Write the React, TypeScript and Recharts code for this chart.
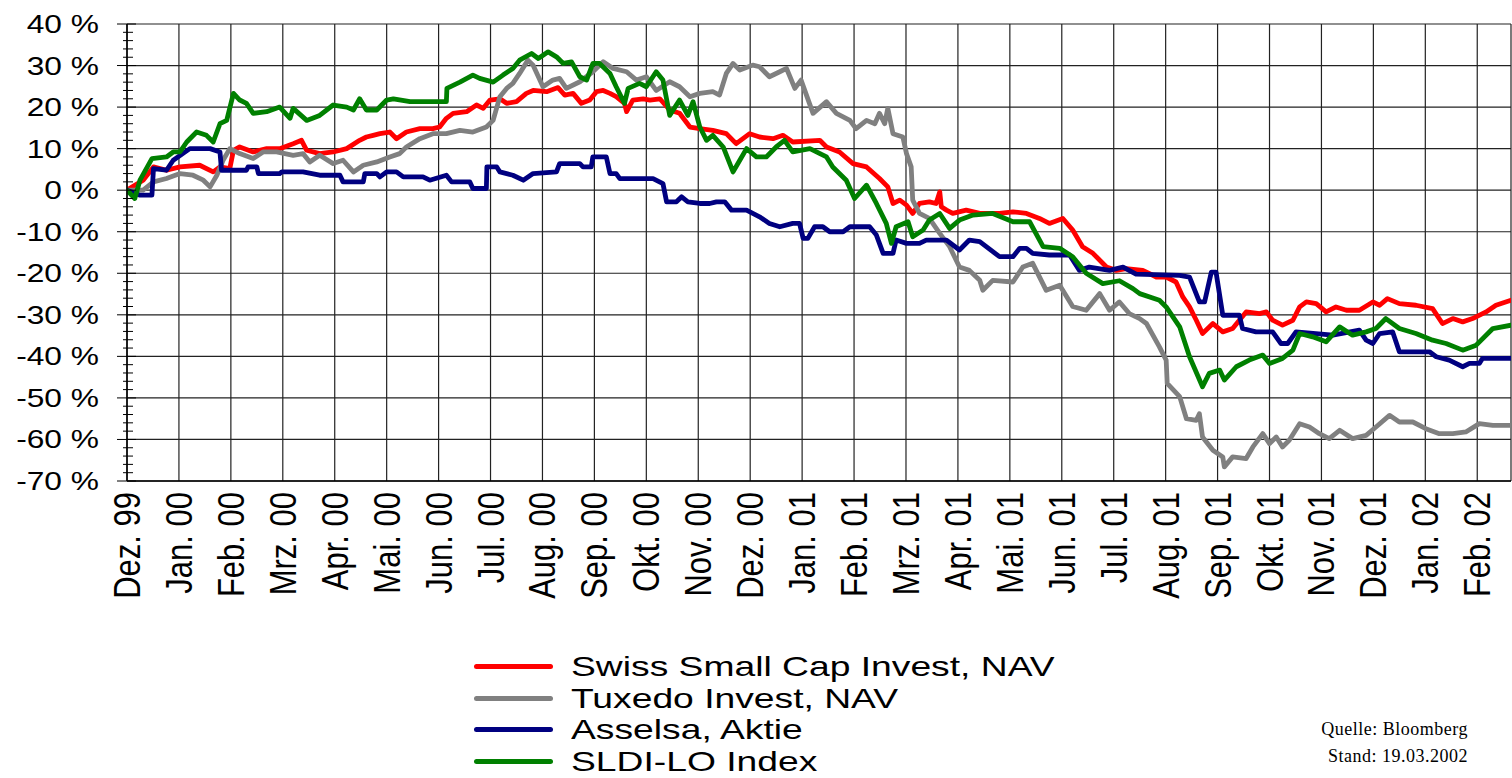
import React from "react";
import { LineChart, Line, XAxis, YAxis, CartesianGrid, Legend } from "recharts";

// x = months since Dez. 99, y = performance in %
const MONTHS = [
  "Dez. 99", "Jan. 00", "Feb. 00", "Mrz. 00", "Apr. 00", "Mai. 00", "Jun. 00",
  "Jul. 00", "Aug. 00", "Sep. 00", "Okt. 00", "Nov. 00", "Dez. 00", "Jan. 01",
  "Feb. 01", "Mrz. 01", "Apr. 01", "Mai. 01", "Jun. 01", "Jul. 01", "Aug. 01",
  "Sep. 01", "Okt. 01", "Nov. 01", "Dez. 01", "Jan. 02", "Feb. 02",
];

const Y_MAJOR = [-70, -60, -50, -40, -30, -20, -10, 0, 10, 20, 30, 40];

const SWISS: [number, number][] = [
  [0, 0], [0.31, 2.4], [0.51, 5.6], [0.76, 4.8], [1.02, 5.6], [1.4, 6], [1.66, 4.4], [1.79, 5.6],
  [1.98, 5.2], [2.05, 9.6], [2.17, 10.4], [2.43, 9.2], [2.69, 10], [2.94, 10], [3.2, 11.2], [3.36, 12],
  [3.46, 9.6], [3.71, 8.8], [3.97, 9.2], [4.23, 10], [4.48, 12], [4.61, 12.8], [4.74, 13.2], [4.87, 13.6],
  [5.06, 14], [5.19, 12.4], [5.38, 14], [5.64, 14.8], [5.89, 14.8], [6.02, 15.2], [6.15, 17.3], [6.28, 18.5],
  [6.54, 18.9], [6.73, 20.5], [6.86, 19.7], [6.99, 21.7], [7.18, 22], [7.31, 20.9], [7.5, 21.3], [7.69, 23.3],
  [7.82, 24], [8.08, 23.7], [8.3, 24.7], [8.43, 22.9], [8.59, 23.3], [8.75, 20.9], [8.91, 21.7], [9.04, 23.7],
  [9.17, 24], [9.3, 23.3], [9.42, 22.5], [9.58, 20.9], [9.62, 18.9], [9.74, 21.7], [9.94, 22], [10.07, 21.7],
  [10.26, 22], [10.45, 19.3], [10.64, 18.5], [10.84, 15.2], [11.03, 14.8], [11.28, 14.4], [11.54, 13.6],
  [11.73, 11.2], [11.99, 13.6], [12.18, 12.8], [12.44, 12.4], [12.63, 13.2], [12.82, 11.6], [13.34, 12],
  [13.47, 10.4], [13.72, 9.2], [13.98, 6.4], [14.24, 5.6], [14.49, 2.8], [14.65, 0.8], [14.75, -3.2],
  [14.88, -2.4], [15.01, -3.6], [15.13, -5.6], [15.26, -3.2], [15.45, -2.8], [15.58, -3.2], [15.65, -0.4],
  [15.68, -4], [15.78, -4.8], [15.9, -5.6], [16.16, -4.8], [16.42, -5.6], [16.8, -5.6], [17.06, -5.2],
  [17.32, -5.6], [17.57, -6.8], [17.76, -8], [18.02, -6.8], [18.21, -9.6], [18.4, -13.6], [18.6, -15.2],
  [18.86, -18.5], [19.05, -19.3], [19.24, -18.9], [19.56, -19.3], [19.82, -20.9], [20.01, -20.9],
  [20.2, -22.1], [20.33, -25.7], [20.46, -28.1], [20.59, -31.3], [20.71, -34.5], [20.91, -32.1],
  [21.1, -34.1], [21.29, -33.3], [21.42, -31.3], [21.55, -29.3], [21.81, -29.7], [21.94, -29.3],
  [22.06, -31.3], [22.25, -32.5], [22.45, -31.3], [22.58, -28.1], [22.71, -26.9], [22.9, -27.3],
  [23.09, -29.3], [23.28, -28.1], [23.48, -28.9], [23.73, -28.9], [23.99, -26.9], [24.12, -27.7],
  [24.27, -26.1], [24.5, -27.3], [24.82, -27.7], [25.14, -28.5], [25.33, -32.1], [25.53, -30.9],
  [25.72, -31.7], [25.91, -30.9], [26.17, -29.3], [26.36, -27.7], [26.65, -26.5],
];

const TUXEDO: [number, number][] = [
  [0, 0], [0.31, 0], [0.51, 2], [0.76, 2.8], [1.02, 4], [1.27, 3.6], [1.47, 2.4], [1.6, 0.8], [1.73, 3.6],
  [1.85, 7.2], [1.98, 10], [2.17, 8.8], [2.43, 7.6], [2.62, 9.2], [2.88, 9.2], [3.2, 8.4], [3.39, 8.8],
  [3.52, 6.8], [3.71, 8.4], [3.97, 6.4], [4.16, 7.2], [4.36, 4.4], [4.55, 6], [4.81, 6.8], [5.06, 8],
  [5.25, 8.8], [5.38, 10.4], [5.64, 12.4], [5.89, 13.6], [6.15, 13.6], [6.41, 14.4], [6.66, 14], [6.92, 15.2],
  [7.05, 16.8], [7.18, 22.5], [7.31, 24.5], [7.43, 25.7], [7.56, 28.1], [7.72, 31.3], [7.82, 30.1],
  [8.01, 24.9], [8.2, 26.5], [8.33, 26.9], [8.46, 24.5], [8.72, 26.1], [8.97, 28.5], [9.17, 30.9],
  [9.36, 29.3], [9.62, 28.5], [9.81, 26.5], [10.0, 27.3], [10.19, 24], [10.45, 26.1], [10.64, 24.9],
  [10.84, 22.5], [11.03, 23.3], [11.28, 23.7], [11.41, 22.9], [11.54, 28.1], [11.67, 30.5], [11.8, 28.9],
  [12.05, 30.1], [12.18, 29.7], [12.37, 27.3], [12.57, 28.5], [12.7, 29.3], [12.86, 24.5], [12.98, 26.5],
  [13.21, 18.5], [13.47, 21.3], [13.66, 18.5], [13.92, 16.8], [14.04, 14.8], [14.24, 16.8], [14.4, 16],
  [14.49, 18.5], [14.59, 16], [14.65, 19.7], [14.75, 13.6], [14.94, 12.8], [15.01, 8.8], [15.1, 5.6],
  [15.13, -2.4], [15.26, -5.6], [15.45, -6.8], [15.65, -10.4], [15.84, -13.6], [16.03, -18.5],
  [16.22, -19.3], [16.42, -21.7], [16.48, -24.1], [16.67, -21.7], [17.06, -22.1], [17.25, -18.5],
  [17.44, -17.6], [17.7, -24.1], [17.96, -22.9], [18.21, -28], [18.47, -28.9], [18.73, -24.9],
  [18.92, -28.9], [19.11, -26.9], [19.3, -29.7], [19.5, -30.9], [19.63, -32.1], [19.88, -37.7],
  [20.01, -40.9], [20.03, -46.5], [20.27, -49.7], [20.4, -55], [20.59, -55.4], [20.65, -53.8],
  [20.71, -59.4], [20.91, -62.6], [21.1, -64.2], [21.13, -66.6], [21.29, -64.2], [21.55, -64.6],
  [21.68, -61.8], [21.87, -58.6], [22.0, -61], [22.13, -59.4], [22.25, -61.8], [22.38, -60.2],
  [22.58, -56.2], [22.77, -57], [22.96, -58.6], [23.15, -59.8], [23.35, -57.8], [23.6, -59.8],
  [23.86, -59], [24.05, -57], [24.31, -54.2], [24.5, -55.8], [24.76, -55.8], [25.01, -57.4],
  [25.27, -58.6], [25.53, -58.6], [25.78, -58.2], [26.04, -56.2], [26.3, -56.6], [26.65, -56.6],
];

const ASSELSA: [number, number][] = [
  [0, 0], [0.25, -1.2], [0.48, -1.2], [0.51, 5.2], [0.76, 4.8], [0.89, 7.2], [1.21, 10], [1.6, 10],
  [1.79, 9.2], [1.82, 4.8], [2.3, 4.8], [2.33, 5.6], [2.5, 5.6], [2.53, 4], [2.94, 4], [2.98, 4.4],
  [3.39, 4.4], [3.71, 3.6], [4.1, 3.6], [4.16, 2], [4.55, 2], [4.58, 4], [4.81, 4], [4.87, 3.2],
  [5.0, 4.4], [5.19, 4.4], [5.32, 3.2], [5.7, 3.2], [5.83, 2.4], [6.15, 3.6], [6.25, 2], [6.6, 2],
  [6.66, 0.4], [6.92, 0.4], [6.93, 5.6], [7.12, 5.6], [7.18, 4.4], [7.43, 3.6], [7.63, 2.4], [7.82, 4],
  [8.27, 4.4], [8.33, 6.4], [8.72, 6.4], [8.78, 5.6], [8.94, 5.6], [8.97, 8], [9.23, 8], [9.3, 4],
  [9.42, 4], [9.49, 2.8], [10.13, 2.8], [10.32, 1.6], [10.39, -2.8], [10.58, -2.8], [10.68, -1.6],
  [10.8, -2.8], [11.03, -3.2], [11.22, -3.2], [11.35, -2.8], [11.51, -2.8], [11.64, -4.8], [11.93, -4.8],
  [12.18, -6.4], [12.37, -8], [12.57, -8.8], [12.82, -8], [12.95, -8], [13.02, -11.6], [13.11, -11.6],
  [13.24, -8.8], [13.4, -8.8], [13.53, -10], [13.79, -10], [13.92, -8.8], [14.3, -8.8], [14.43, -10.8],
  [14.56, -15.2], [14.75, -15.2], [14.81, -12], [15.01, -12.8], [15.26, -12.8], [15.39, -12], [15.78, -12],
  [16.03, -14.4], [16.22, -12], [16.42, -12.4], [16.8, -16], [17.06, -16], [17.19, -14], [17.32, -14],
  [17.44, -15.2], [17.76, -15.6], [18.15, -15.6], [18.34, -19.3], [18.53, -18.5], [18.92, -19.3],
  [19.18, -18.5], [19.43, -20.2], [20.27, -20.5], [20.46, -20.9], [20.65, -26.9], [20.75, -26.9],
  [20.88, -19.7], [20.97, -19.7], [21.1, -30.1], [21.42, -30.1], [21.48, -33.3], [21.74, -34.1],
  [22.06, -34.1], [22.22, -36.9], [22.35, -36.9], [22.51, -34.1], [23.22, -34.9], [23.73, -33.7],
  [23.86, -36.1], [23.99, -36.9], [24.12, -34.5], [24.37, -34.1], [24.5, -38.9], [25.08, -38.9],
  [25.21, -40.1], [25.46, -40.9], [25.72, -42.5], [25.85, -41.7], [26.04, -41.7], [26.1, -40.5],
  [26.65, -40.5],
];

const SLDI: [number, number][] = [
  [0, 0], [0.15, -2], [0.25, 2.4], [0.48, 7.6], [0.76, 8], [0.89, 9.2], [1.02, 9.2], [1.15, 11.6],
  [1.34, 14], [1.53, 13.2], [1.66, 11.6], [1.79, 16], [1.92, 16.8], [2.05, 23.3], [2.17, 21.7],
  [2.3, 20.9], [2.43, 18.5], [2.69, 18.9], [2.94, 20], [3.14, 17.3], [3.2, 19.7], [3.46, 16.8], [3.71, 18],
  [3.97, 20.5], [4.23, 20], [4.36, 19.3], [4.48, 22], [4.61, 19.3], [4.81, 19.3], [5.0, 21.7], [5.13, 22],
  [5.45, 21.3], [6.15, 21.3], [6.16, 24.5], [6.41, 26], [6.66, 27.7], [6.79, 26.9], [7.05, 26],
  [7.24, 27.7], [7.43, 29.3], [7.56, 31.3], [7.79, 32.9], [7.92, 31.7], [8.11, 33.3], [8.27, 32.1],
  [8.4, 30.5], [8.56, 30.9], [8.72, 27.3], [8.85, 26.5], [8.97, 30.5], [9.1, 30.5], [9.3, 28.1],
  [9.42, 24.9], [9.58, 20.9], [9.65, 24.5], [9.87, 25.7], [10.0, 24.9], [10.19, 28.5], [10.32, 26.5],
  [10.45, 18], [10.64, 21.7], [10.8, 18], [10.9, 21.3], [11.03, 15.2], [11.16, 12], [11.28, 13.2],
  [11.48, 10.4], [11.67, 4.4], [11.8, 7.2], [11.93, 10], [12.12, 8], [12.31, 8], [12.5, 10.4], [12.66, 12],
  [12.82, 9.2], [13.15, 10], [13.47, 8], [13.59, 5.6], [13.85, 2.4], [14.01, -2], [14.24, 1.2],
  [14.43, -3.2], [14.62, -8], [14.72, -12.8], [14.81, -8.8], [15.04, -7.6], [15.13, -11.2], [15.33, -9.6],
  [15.45, -7.2], [15.65, -5.6], [15.84, -9.2], [16.03, -7.2], [16.29, -6], [16.67, -5.6], [17.06, -7.6],
  [17.38, -7.6], [17.64, -13.6], [17.96, -14], [18.21, -16], [18.47, -20], [18.79, -22.5], [19.11, -21.8],
  [19.37, -23.7], [19.5, -24.9], [19.88, -26.5], [20.01, -28.1], [20.27, -32.9], [20.46, -40.1],
  [20.71, -47.3], [20.84, -44.1], [21.04, -43.3], [21.13, -45.7], [21.36, -42.5], [21.61, -40.9],
  [21.87, -39.7], [22.0, -41.7], [22.25, -40.5], [22.45, -38.5], [22.58, -34.5], [22.83, -35.3],
  [23.09, -36.5], [23.35, -32.9], [23.6, -34.9], [23.86, -34.1], [24.05, -33.3], [24.24, -30.9],
  [24.5, -33.3], [24.82, -34.5], [25.14, -36.1], [25.4, -36.9], [25.72, -38.5], [25.98, -37.3],
  [26.3, -33.3], [26.65, -32.5],
];

const SERIES = [
  { name: "Swiss Small Cap Invest, NAV", color: "#ff0000", points: SWISS },
  { name: "Tuxedo Invest, NAV", color: "#808080", points: TUXEDO },
  { name: "Asselsa, Aktie", color: "#000080", points: ASSELSA },
  { name: "SLDI-LO Index", color: "#008000", points: SLDI },
];

const FONT = "'Liberation Sans', Arial, sans-serif";
const Y_TICKS = Array.from({ length: 56 }, (_, i) => -70 + i * 2);
const X_TICKS = MONTHS.map((_, i) => i);

function YTick(props: any) {
  const { x, y, payload } = props;
  const v = payload.value;
  const major = v % 10 === 0;
  const tx = x - 28;
  return (
    <g>
      <line x1={major ? x - 10 : x - 4} x2={major ? x + 9 : x + 6} y1={y} y2={y} stroke="#000" strokeWidth={1} />
      {major && (
        <text
          x={0}
          y={0}
          textAnchor="end"
          dominantBaseline="central"
          fontSize={26}
          fontFamily={FONT}
          fill="#000"
          transform={`translate(${tx} ${y}) scale(1.22 1)`}
        >
          {`${v} %`}
        </text>
      )}
    </g>
  );
}

function XTick(props: any) {
  const { x, y, payload } = props;
  return (
    <g transform={`translate(${x} ${y + 11}) scale(1.2 1) rotate(-90)`}>
      <text x={0} y={0} textAnchor="end" dominantBaseline="central" fontSize={31} fontFamily={FONT} fill="#000">
        {MONTHS[payload.value]}
      </text>
    </g>
  );
}

// legend drawn in the original series order (recharts would sort it by name)
function LegendBox() {
  return (
    <div style={{ fontFamily: FONT }}>
      {SERIES.map((s) => (
        <div key={s.name} style={{ display: "flex", alignItems: "center", height: 31.5 }}>
          <div style={{ width: 79, height: 5, borderRadius: 3, background: s.color, marginRight: 18, flex: "none" }} />
          <span
            style={{
              fontSize: 28,
              lineHeight: "31px",
              whiteSpace: "nowrap",
              transform: "scaleX(1.33)",
              transformOrigin: "left center",
              display: "inline-block",
            }}
          >
            {s.name}
          </span>
        </div>
      ))}
    </div>
  );
}

export default function App() {
  return (
    <div style={{ position: "absolute", left: 0, top: 0, width: 1512, height: 778, overflow: "hidden", background: "#fff" }}>
      <LineChart width={1512} height={778} margin={{ top: 24, right: 1, left: 0, bottom: 0 }}>
        <CartesianGrid stroke="#222" strokeWidth={1.2} horizontalValues={Y_MAJOR} />
        <XAxis
          type="number"
          dataKey="t"
          domain={[0, 26.65]}
          allowDataOverflow
          ticks={X_TICKS}
          interval={0}
          height={297}
          tickSize={0}
          tickMargin={0}
          tick={<XTick />}
          axisLine={{ stroke: "#000", strokeWidth: 1.5 }}
        />
        <YAxis
          type="number"
          domain={[-70, 40]}
          allowDataOverflow
          ticks={Y_TICKS}
          interval={0}
          width={127}
          tickSize={0}
          tickMargin={0}
          tick={<YTick />}
          axisLine={{ stroke: "#000", strokeWidth: 1.5 }}
        />
        <Legend
          layout="vertical"
          align="center"
          verticalAlign="middle"
          content={<LegendBox />}
          wrapperStyle={{ left: 474, top: 651, width: 700, height: 127 }}
        />
        {SERIES.map((s) => (
          <Line
            key={s.name}
            name={s.name}
            data={s.points.map(([t, v]) => ({ t, v }))}
            dataKey="v"
            type="linear"
            stroke={s.color}
            strokeWidth={4.8}
            strokeLinejoin="round"
            strokeLinecap="round"
            dot={false}
            activeDot={false}
            isAnimationActive={false}
          />
        ))}
      </LineChart>
      <div
        style={{
          position: "absolute",
          right: 44,
          top: 716,
          textAlign: "right",
          fontFamily: "'Liberation Serif', 'Times New Roman', serif",
          fontSize: 18,
          letterSpacing: 0.5,
          lineHeight: "27px",
          color: "#000",
        }}
      >
        <div>Quelle: Bloomberg</div>
        <div>Stand: 19.03.2002</div>
      </div>
    </div>
  );
}
